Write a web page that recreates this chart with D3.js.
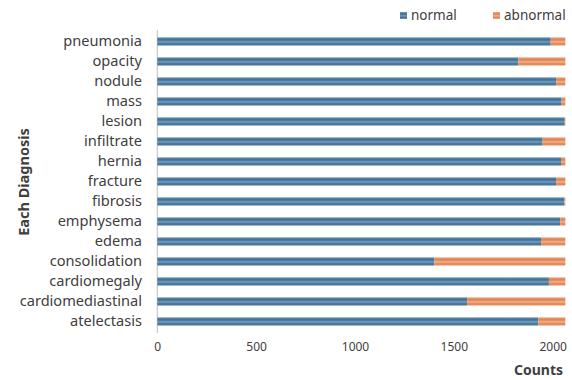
<!DOCTYPE html>
<html><head><meta charset="utf-8">
<script src="https://cdn.jsdelivr.net/npm/d3@7"></script>
<style>body{margin:0;background:#fff;} text{font-family:"Noto Sans",sans-serif;}</style>
</head><body><svg id="c" width="572" height="380"></svg>
<script>
const categories = ["pneumonia","opacity","nodule","mass","lesion","infiltrate","hernia","fracture","fibrosis","emphysema","edema","consolidation","cardiomegaly","cardiomediastinal","atelectasis"];
const normal   = [1990,1826,2017,2045,2061,1949,2042,2017,2059,2038,1941,1401,1981,1567,1927];
const abnormal = [74,238,47,19,3,115,22,47,5,26,123,663,83,497,137];
const xTicks = [0,500,1000,1500,2000];
const seriesNames = ["normal","abnormal"];

const svg = d3.select("#c");
const defs = svg.append("defs");
function grad(id, dark, mid, light){
  const g = defs.append("linearGradient").attr("id",id).attr("x1",0).attr("y1",0).attr("x2",0).attr("y2",1);
  const stops = [[0,light],[0.12,mid],[0.3,dark],[0.42,mid],[0.55,light],[0.68,mid],[0.82,dark],[1,light]];
  stops.forEach(s=>g.append("stop").attr("offset",s[0]).attr("stop-color",s[1]));
}
grad("gN","#3f6d92","#5584a8","#7c9fbb");
grad("gA","#e08050","#e8956a","#f0b590");

const x = d3.scaleLinear().domain([0,2000]).range([157.3,552.7]);
const y = d3.scaleBand().domain(categories).range([31.5,331.5]).paddingInner(0.58).paddingOuter(0.29);

const data = categories.map((c,i)=>({c, n:normal[i], a:abnormal[i]}));

svg.append("line").attr("x1",x(0)).attr("x2",x(0)).attr("y1",30).attr("y2",333)
  .attr("stroke","#bfbfbf").attr("stroke-width",1);

const g = svg.append("g");
g.selectAll(".bn").data(data).join("rect")
  .attr("x",x(0)).attr("y",d=>y(d.c)).attr("width",d=>x(d.n)-x(0)).attr("height",y.bandwidth())
  .attr("fill","url(#gN)");
g.selectAll(".ba").data(data).join("rect")
  .attr("x",d=>x(d.n)).attr("y",d=>y(d.c)).attr("width",d=>x(d.n+d.a)-x(d.n)).attr("height",y.bandwidth())
  .attr("fill","url(#gA)");

const yAxis = d3.axisLeft(y).tickSize(0).tickPadding(0);
const ya = svg.append("g").attr("transform","translate(142,0)").call(yAxis);
ya.select(".domain").remove();
ya.selectAll("text").attr("font-size",14.6).attr("fill","#404040").attr("font-family","Noto Sans, sans-serif").attr("dy","0.32em");

const xAxis = d3.axisBottom(x).tickValues(xTicks).tickSize(0).tickPadding(0).tickFormat(d3.format("d"));
const xa = svg.append("g").attr("transform","translate(0,342)").call(xAxis);
xa.select(".domain").remove();
xa.selectAll("text").attr("font-size",12).attr("fill","#404040").attr("font-family","Noto Sans, sans-serif");

svg.append("text").attr("x",563).attr("y",375).attr("text-anchor","end")
  .attr("font-size",14).attr("font-weight","bold").attr("fill","#404040").text("Counts");
svg.append("text").attr("transform","translate(29,182) rotate(-90)").attr("text-anchor","middle")
  .attr("font-size",14.5).attr("font-weight","bold").attr("fill","#404040").text("Each Diagnosis");

const legX = [400, 493];
seriesNames.forEach((s,i)=>{
  svg.append("rect").attr("x",legX[i]).attr("y",12).attr("width",7).attr("height",7)
    .attr("fill", s==="normal"?"url(#gN)":"url(#gA)");
  svg.append("text").attr("x",legX[i]+11).attr("y",20).attr("font-size",13.5).attr("fill","#404040").text(s);
});
</script></body></html>
